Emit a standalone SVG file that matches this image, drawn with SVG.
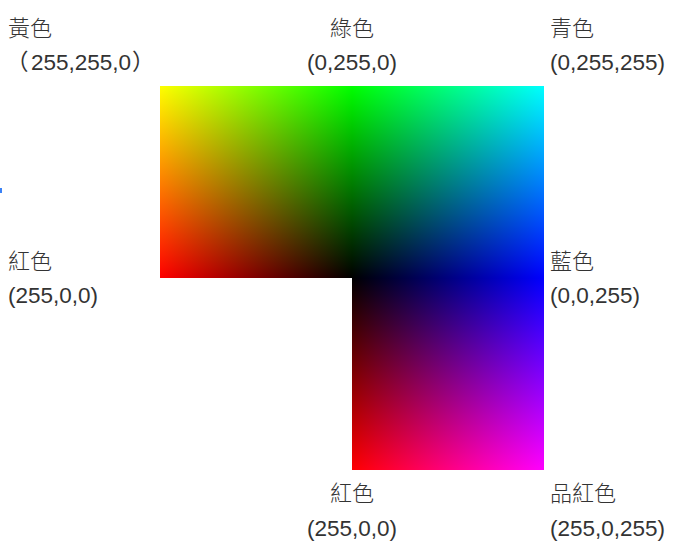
<svg xmlns="http://www.w3.org/2000/svg" width="696" height="554" viewBox="0 0 696 554">
<style>
text{font-family:"Liberation Sans","Noto Sans CJK TC",sans-serif;font-size:22.5px;fill:#333}
text.c{font-family:"Noto Sans CJK TC","Noto Sans CJK SC",sans-serif;font-size:22px;font-weight:300}
.m{text-anchor:middle}
.s{mix-blend-mode:screen}
</style>
<defs>
<linearGradient id="gV" x1="0" y1="0" x2="0" y2="1"><stop offset="0" stop-color="#00ff00"/><stop offset="1" stop-color="#000"/></linearGradient>
<linearGradient id="rH" x1="0" y1="0" x2="1" y2="0"><stop offset="0" stop-color="#ff0000"/><stop offset="1" stop-color="#000"/></linearGradient>
<linearGradient id="bH" x1="0" y1="0" x2="1" y2="0"><stop offset="0" stop-color="#000"/><stop offset="1" stop-color="#0000ff"/></linearGradient>
<linearGradient id="rV" x1="0" y1="0" x2="0" y2="1"><stop offset="0" stop-color="#000"/><stop offset="1" stop-color="#ff0000"/></linearGradient>
</defs>
<rect width="696" height="554" fill="#fff"/>
<g id="colorfield" style="isolation:isolate">
<path d="M160 86H544V470H352V278H160Z" fill="#000"/>
<rect class="s" x="160" y="86" width="384" height="192" fill="url(#gV)"/>
<rect class="s" x="160" y="86" width="192" height="192" fill="url(#rH)"/>
<rect class="s" x="352" y="86" width="192" height="384" fill="url(#bH)"/>
<rect class="s" x="352" y="278" width="192" height="192" fill="url(#rV)"/>
</g>
<rect x="0" y="188" width="2" height="5" fill="#3b82f6"/>
<g id="yellow"><text class="c" x="8" y="36">黃色</text><text y="70"><tspan x="6">（</tspan><tspan x="31">255,255,0</tspan><tspan x="132">）</tspan></text></g>
<g id="green"><text class="c m" x="352" y="36">綠色</text><text class="m" x="352" y="70">(0,255,0)</text></g>
<g id="cyan"><text class="c" x="550" y="36">青色</text><text x="550" y="70">(0,255,255)</text></g>
<g id="red-left"><text class="c" x="8" y="269">紅色</text><text x="8" y="303">(255,0,0)</text></g>
<g id="blue"><text class="c" x="550" y="269">藍色</text><text x="550" y="303">(0,0,255)</text></g>
<g id="red-bottom"><text class="c m" x="352" y="501">紅色</text><text class="m" x="352" y="536">(255,0,0)</text></g>
<g id="magenta"><text class="c" x="550" y="501">品紅色</text><text x="550" y="536">(255,0,255)</text></g>
<g id="connectors"/>
</svg>
